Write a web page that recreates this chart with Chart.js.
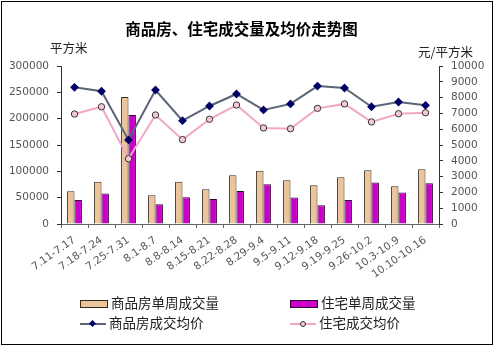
<!DOCTYPE html>
<html>
<head>
<meta charset="utf-8">
<script src="https://cdn.jsdelivr.net/npm/chart.js@4/dist/chart.umd.min.js"></script>
<style>
  body { margin: 0; background: #fff; }
  #wrap { position: relative; width: 499px; height: 350px; font-family: "Noto Sans CJK SC", sans-serif; }
  #frame { position: absolute; left: 1px; top: 1px; width: 490px; height: 342px; border: 1px solid #000; box-sizing: content-box; }
  .txt { position: absolute; white-space: nowrap; color: #222; }
  #title { left: 0; width: 483px; top: 17px; text-align: center; font-size: 15.5px; font-weight: bold; color: #000; }
  #unitL { left: 50px; top: 38px; font-size: 12.5px; }
  #unitR { left: 418px; top: 42px; font-size: 12.5px; }
  .leg { position: absolute; font-size: 13.5px; color: #222; white-space: nowrap; line-height: 16px; }
  .box { display: inline-block; width: 26px; height: 6px; vertical-align: middle; margin-right: 3px; }
  .ln { display: inline-block; position: relative; width: 26px; height: 8px; vertical-align: middle; margin-right: 3px; }
  .ln i { position: absolute; left: 0; right: 0; top: 3px; height: 2px; }
  .ln b { position: absolute; left: 10px; top: 1px; width: 5px; height: 5px; }
</style>
</head>
<body>
<div id="wrap">
  <canvas id="chart" width="499" height="350"></canvas>
  <div id="frame"></div>
  <div class="txt" id="title">商品房、住宅成交量及均价走势图</div>
  <div class="txt" id="unitL">平方米</div>
  <div class="txt" id="unitR">元/平方米</div>
  <div class="leg" style="left:80px;top:294px"><span class="box" style="background:#ecc49c;border:1px solid #3a2a1a"></span>商品房单周成交量</div>
  <div class="leg" style="left:290px;top:294px"><span class="box" style="background:#c800c8;border:1px solid #330033"></span>住宅单周成交量</div>
  <div class="leg" style="left:80px;top:314px"><span class="ln"><i style="background:#5b6577"></i><b style="background:#000066;transform:rotate(45deg)"></b></span>商品房成交均价</div>
  <div class="leg" style="left:290px;top:314px"><span class="ln"><i style="background:#f2a6c8"></i><b style="background:#f5c8d8;border:1px solid #333;border-radius:50%;width:4px;height:4px"></b></span>住宅成交均价</div>
</div>
<script>
const categories = ["7.11-7.17", "7.18-7.24", "7.25-7.31", "8.1-8.7", "8.8-8.14", "8.15-8.21", "8.22-8.28",
  "8.29-9.4", "9.5-9.11", "9.12-9.18", "9.19-9.25", "9.26-10.2", "10.3-10.9", "10.10-10.16"];
const commercialVolume = [62000, 80000, 241000, 54500, 80000, 66000, 92500, 101000, 83000, 73500, 89000, 102000, 71500, 104000];
const residentialVolume = [45500, 58000, 207000, 37500, 51000, 47500, 62500, 75500, 50500, 35500, 45500, 79000, 60000, 77500];
const commercialPrice = [8650, 8400, 5320, 8480, 6540, 7470, 8230, 7220, 7600, 8730, 8610, 7420, 7720, 7510];
const residentialPrice = [6960, 7420, 4130, 6900, 5340, 6630, 7530, 6080, 6030, 7320, 7600, 6460, 6980, 7040];

const tickFont = { family: "DejaVu Sans", size: 10.5 };
const plain = (v) => String(v);

new Chart(document.getElementById("chart"), {
  type: "bar",
  data: {
    labels: categories,
    datasets: [
      {
        type: "line",
        label: "商品房成交均价",
        data: commercialPrice,
        yAxisID: "yRight",
        borderColor: "#5b6577",
        borderWidth: 2,
        pointStyle: "rectRot",
        pointRadius: 3,
        pointBackgroundColor: "#000066",
        pointBorderColor: "#000066",
        tension: 0,
        order: 1,
      },
      {
        type: "line",
        label: "住宅成交均价",
        data: residentialPrice,
        yAxisID: "yRight",
        borderColor: "#f2a6c8",
        borderWidth: 2,
        pointStyle: "circle",
        pointRadius: 3.2,
        pointBackgroundColor: "#f5c8d8",
        pointBorderColor: "#333",
        pointBorderWidth: 1,
        tension: 0,
        order: 1,
      },
      {
        label: "商品房单周成交量",
        data: commercialVolume,
        yAxisID: "yLeft",
        backgroundColor: "#ecc49c",
        borderColor: "#3a2a1a",
        borderWidth: 1,
        categoryPercentage: 0.55,
        barPercentage: 1,
        order: 2,
      },
      {
        label: "住宅单周成交量",
        data: residentialVolume,
        yAxisID: "yLeft",
        backgroundColor: "#c800c8",
        borderColor: "#330033",
        borderWidth: 1,
        categoryPercentage: 0.55,
        barPercentage: 1,
        order: 2,
      },
    ],
  },
  options: {
    responsive: false,
    animation: false,
    devicePixelRatio: 1,
    layout: { padding: { top: 66, left: 0, right: 0, bottom: 0 } },
    plugins: {
      legend: { display: false },
      tooltip: { enabled: false },
    },
    scales: {
      x: {
        grid: { drawOnChartArea: false, tickLength: 4, color: "#666" },
        border: { color: "#666" },
        ticks: { font: tickFont, color: "#555", minRotation: 35, maxRotation: 35, autoSkip: false, padding: 6 },
        afterFit: (scale) => { scale.height = 126; },
      },
      yLeft: {
        position: "left",
        min: 0,
        max: 300000,
        grid: { drawOnChartArea: false, tickLength: 4, color: "#333" },
        border: { color: "#333" },
        ticks: { stepSize: 50000, font: tickFont, color: "#555", padding: 8, callback: plain },
        afterFit: (scale) => { scale.width = 61; },
      },
      yRight: {
        position: "right",
        min: 0,
        max: 10000,
        grid: { drawOnChartArea: false, tickLength: 4, color: "#333" },
        border: { color: "#333" },
        ticks: { stepSize: 1000, font: tickFont, color: "#555", padding: 8, callback: plain },
        afterFit: (scale) => { scale.width = 60; },
      },
    },
  },
});
</script>
</body>
</html>
